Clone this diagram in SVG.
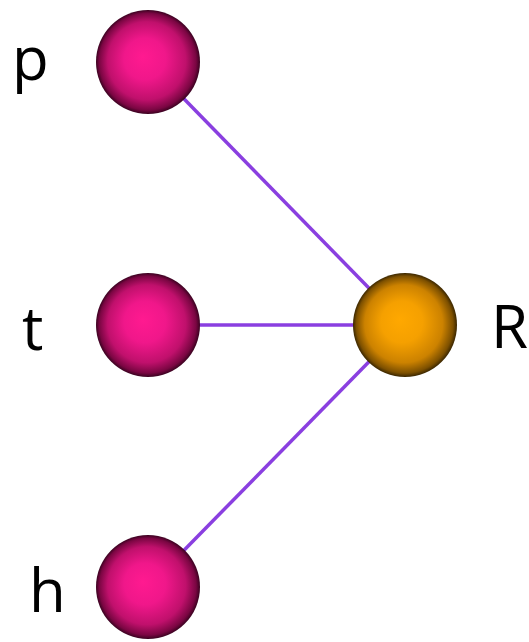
<svg xmlns="http://www.w3.org/2000/svg" width="529" height="642" viewBox="0 0 529 642">
<defs>
<radialGradient id="pink" cx="0.5" cy="0.5" r="0.5" fx="0.45" fy="0.45">
<stop offset="0" stop-color="#ff1a90"/>
<stop offset="0.4" stop-color="#f0178a"/>
<stop offset="0.75" stop-color="#c0106c"/>
<stop offset="0.93" stop-color="#7a0642"/>
<stop offset="1" stop-color="#3a0220"/>
</radialGradient>
<radialGradient id="orange" cx="0.5" cy="0.5" r="0.5" fx="0.45" fy="0.45">
<stop offset="0" stop-color="#ffa800"/>
<stop offset="0.4" stop-color="#f5a000"/>
<stop offset="0.75" stop-color="#cc8200"/>
<stop offset="0.93" stop-color="#7d5000"/>
<stop offset="1" stop-color="#3a2600"/>
</radialGradient>
</defs>
<style>
.edge{stroke:#8a3fe0;stroke-width:3.5;fill:none}
.lbl{font-family:"Open Sans","Liberation Sans",sans-serif;font-size:60px;fill:#000}
</style>
<rect width="529" height="642" fill="#fff"/>
<g id="connectors">
<line class="edge" x1="148" y1="62" x2="405" y2="325"/>
<line class="edge" x1="148" y1="325" x2="405" y2="325"/>
<line class="edge" x1="148" y1="587" x2="405" y2="325"/>
</g>
<g id="node-p"><circle cx="148" cy="62" r="52" fill="url(#pink)"/><text class="lbl" x="12" y="80">p</text></g>
<g id="node-t"><circle cx="148" cy="325" r="52" fill="url(#pink)"/><text class="lbl" x="22" y="350">t</text></g>
<g id="node-h"><circle cx="148" cy="587" r="52" fill="url(#pink)"/><text class="lbl" x="29" y="612">h</text></g>
<g id="node-R"><circle cx="405" cy="325" r="52" fill="url(#orange)"/><text class="lbl" x="491" y="348">R</text></g>
</svg>
